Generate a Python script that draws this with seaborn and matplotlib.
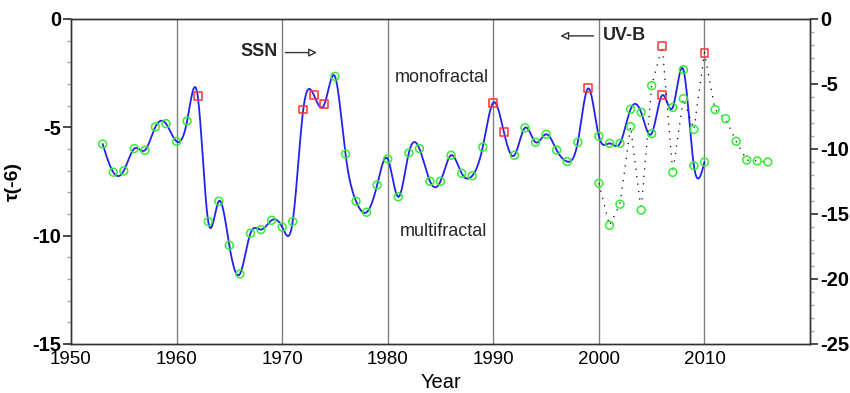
import numpy as np
import pandas as pd
import matplotlib
matplotlib.use("Agg")
import matplotlib.pyplot as plt
import seaborn as sns
from matplotlib.ticker import MultipleLocator

sns.set_theme(style="white")
plt.rcParams['font.family'] = ['Liberation Sans', 'DejaVu Sans']
plt.rcParams['axes.unicode_minus'] = False

# ---- data ----
main_years = list(range(1953, 2011))
main_tau = [-5.77, -7.07, -7.01, -5.98, -6.06, -4.98, -4.83, -5.65, -4.71, -3.55,
            -9.35, -8.41, -10.45, -11.77, -9.89, -9.72, -9.29, -9.60, -9.35, -4.18,
            -3.51, -3.94, -2.65, -6.23, -8.41, -8.92, -7.66, -6.46, -8.21, -6.18,
            -5.98, -7.49, -7.49, -6.29, -7.12, -7.24, -5.91, -3.86, -5.21, -6.29,
            -5.02, -5.69, -5.32, -6.05, -6.58, -5.69, -3.20, -5.41, -5.74, -5.74,
            -4.17, -4.31, -5.29, -3.52, -4.08, -2.34, -6.77, -6.60]
main_mono_years = [1962, 1972, 1973, 1974, 1990, 1991, 1999, 2006]

uvb_years = list(range(2000, 2017))
uvb_tau = [-12.64, -15.87, -14.25, -8.28, -14.70, -5.13, -2.10, -11.80, -6.13,
           -8.49, -2.59, -6.97, -7.67, -9.41, -10.85, -10.92, -11.00]
uvb_mono_years = [2006, 2010]

decades = [1960, 1970, 1980, 1990, 2000, 2010]
x_tick_labels = ["1950", "1960", "1970", "1980", "1990", "2000", "2010"]


def natural_spline(x, y, xs):
    x = np.asarray(x, float); y = np.asarray(y, float)
    n = len(x)
    h = np.diff(x)
    A = np.zeros((n, n)); b = np.zeros(n)
    A[0, 0] = 1; A[-1, -1] = 1
    for i in range(1, n - 1):
        A[i, i - 1] = h[i - 1]
        A[i, i] = 2 * (h[i - 1] + h[i])
        A[i, i + 1] = h[i]
        b[i] = 3 * ((y[i + 1] - y[i]) / h[i] - (y[i] - y[i - 1]) / h[i - 1])
    c = np.linalg.solve(A, b)
    bb = (y[1:] - y[:-1]) / h - h * (2 * c[:-1] + c[1:]) / 3
    d = (c[1:] - c[:-1]) / (3 * h)
    idx = np.clip(np.searchsorted(x, xs) - 1, 0, n - 2)
    dx = xs - x[idx]
    return y[idx] + bb[idx] * dx + c[idx] * dx ** 2 + d[idx] * dx ** 3


main_df = pd.DataFrame({"Year": main_years, "tau": main_tau})
main_df["mono"] = main_df["Year"].isin(main_mono_years)
uvb_df = pd.DataFrame({"Year": uvb_years, "tau": uvb_tau})
uvb_df["mono"] = uvb_df["Year"].isin(uvb_mono_years)

xs = np.linspace(main_years[0], main_years[-1], 2000)
curve_df = pd.DataFrame({"Year": xs, "tau": natural_spline(main_years, main_tau, xs)})

fig = plt.figure(figsize=(8.5, 3.93), dpi=100)
ax = fig.add_axes([0.0835, 0.1247, 0.8695, 0.827])
ax2 = ax.twinx()

for d in decades:
    ax.axvline(d, color="#808080", lw=1.0, zorder=1)

GREEN = "#33ee33"
RED = "#ff3333"
MS = 32

# UV-B dotted series on right axis
sns.lineplot(data=uvb_df, x="Year", y="tau", ax=ax2, color="black", lw=0.9,
             linestyle=(0, (1, 5)), zorder=2)
sns.scatterplot(data=uvb_df[~uvb_df["mono"]], x="Year", y="tau", ax=ax2, marker="o",
                s=MS, facecolor="none", edgecolor=GREEN, linewidth=1.1, zorder=4)
sns.scatterplot(data=uvb_df[uvb_df["mono"]], x="Year", y="tau", ax=ax2, marker="s",
                s=MS, facecolor="none", edgecolor=RED, linewidth=1.1, zorder=4)

# main series on left axis
sns.lineplot(data=curve_df, x="Year", y="tau", ax=ax, color="#2222ee", lw=1.3, zorder=3)
sns.scatterplot(data=main_df[~main_df["mono"]], x="Year", y="tau", ax=ax, marker="o",
                s=MS, facecolor="none", edgecolor=GREEN, linewidth=1.1, zorder=4)
sns.scatterplot(data=main_df[main_df["mono"]], x="Year", y="tau", ax=ax, marker="s",
                s=MS, facecolor="none", edgecolor=RED, linewidth=1.1, zorder=4)

ax.set_xlim(1950, 2020)
ax.set_ylim(-15, 0)
ax2.set_ylim(-25, 0)

ax.xaxis.set_minor_locator(MultipleLocator(2))
ax.yaxis.set_major_locator(MultipleLocator(5))
ax.yaxis.set_minor_locator(MultipleLocator(1))
ax2.yaxis.set_major_locator(MultipleLocator(5))
ax2.yaxis.set_minor_locator(MultipleLocator(1))

ax.set_xticks([int(t) for t in x_tick_labels])
ax.set_xticklabels(x_tick_labels)

for a in (ax, ax2):
    for s in a.spines.values():
        s.set_color("#333333"); s.set_linewidth(1.0)

ax.tick_params(axis="x", which="major", direction="in", length=5, labelsize=13.5, pad=5,
               color="#333333", labelcolor="black")
ax.tick_params(axis="x", which="minor", direction="in", length=3, color="#888888")
ax.tick_params(axis="y", which="major", direction="out", length=6, labelsize=14.5, pad=1,
               left=True, color="#333333", labelcolor="black")
ax.tick_params(axis="y", which="minor", direction="out", length=3, left=True, color="#aaaaaa")
ax2.tick_params(axis="y", which="major", direction="out", length=6, labelsize=14.5, pad=1,
                right=True, color="#333333", labelcolor="black")
ax2.tick_params(axis="y", which="minor", direction="out", length=3, right=True, color="#aaaaaa")
for lbl in ax.get_yticklabels() + ax2.get_yticklabels():
    lbl.set_fontweight("bold")

ax.set_xlabel("Year", fontsize=14.5, labelpad=4, color="black")
ax.set_ylabel("τ(-6)", fontsize=14, fontweight="bold", color="black")
ax.yaxis.set_label_coords(-0.066, 0.5)
ax2.set_ylabel("")

# annotations
ax.text(1967.8, -1.52, "SSN", fontsize=13, fontweight="bold", ha="center", va="center")
ax.annotate("", xy=(1973.3, -1.55), xytext=(1970.3, -1.55),
            arrowprops=dict(arrowstyle="-|>", color="#333333", lw=1.0, fc="white",
                            mutation_scale=12, shrinkA=0, shrinkB=0))
ax.text(2000.4, -0.78, "UV-B", fontsize=13, fontweight="bold", ha="left", va="center")
ax.annotate("", xy=(1996.35, -0.78), xytext=(1999.5, -0.78),
            arrowprops=dict(arrowstyle="-|>", color="#333333", lw=1.0, fc="white",
                            mutation_scale=12, shrinkA=0, shrinkB=0))
ax.text(1985.1, -2.72, "monofractal", fontsize=13, ha="center", va="center")
ax.text(1985.3, -9.82, "multifractal", fontsize=13, ha="center", va="center")

fig.savefig("out.png", dpi=100)
